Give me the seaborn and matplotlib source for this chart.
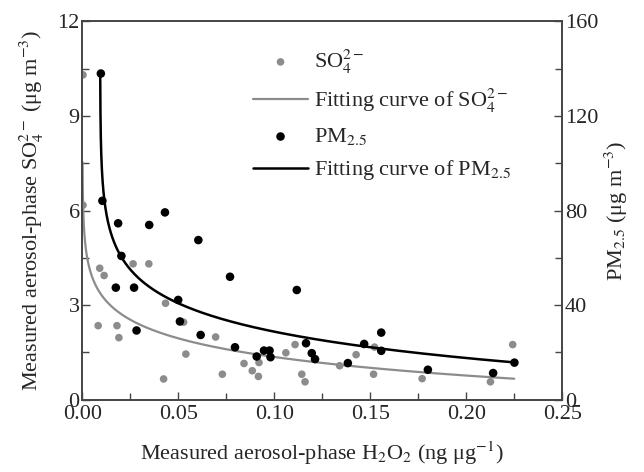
import numpy as np
import pandas as pd
import seaborn as sns
import matplotlib.pyplot as plt
from matplotlib.ticker import MultipleLocator

# SO4 2- (left axis), gray dots
so4_x = [0.0003, 0.0003, 0.0090, 0.0113, 0.0082, 0.0180, 0.0190, 0.0264, 0.0346, 0.0433,
         0.0423, 0.0527, 0.0539, 0.0694, 0.0729, 0.0842, 0.0885, 0.0917, 0.0920, 0.1060,
         0.1108, 0.1143, 0.1160, 0.1340, 0.1426, 0.1517, 0.1522, 0.1770, 0.2126, 0.2242]
so4_y = [10.3, 6.17, 4.17, 3.94, 2.35, 2.35, 1.97, 4.31, 4.31, 3.06,
         0.66, 2.46, 1.45, 1.99, 0.81, 1.15, 0.92, 0.74, 1.18, 1.49,
         1.75, 0.81, 0.57, 1.08, 1.43, 0.81, 1.67, 0.67, 0.57, 1.75]

# PM2.5 (right axis), black dots
pm_x = [0.0096, 0.0104, 0.0186, 0.0348, 0.0430, 0.0604, 0.0203, 0.0769, 0.0174, 0.0269,
        0.0499, 0.0508, 0.0282, 0.0616, 0.0795, 0.0908, 0.0946, 0.0975, 0.0980, 0.1117,
        0.1165, 0.1195, 0.1212, 0.1383, 0.1468, 0.1557, 0.1557, 0.1800, 0.2140, 0.2251]
pm_y = [137.9, 84.1, 74.6, 73.9, 79.2, 67.5, 60.8, 52.0, 47.4, 47.4,
        42.2, 33.1, 29.3, 27.4, 22.2, 18.3, 20.8, 20.8, 18.0, 46.4,
        23.9, 19.7, 17.2, 15.5, 23.6, 28.4, 20.7, 12.7, 11.3, 15.7]

# fitted curves y = a + b*ln(x - c), coefficients
so4_fit = {"a": -0.6, "b": -0.85, "c": 0.0, "x0": 0.00007, "x1": 0.225}
pm_fit = {"a": -7.2, "b": -15.0, "c": 0.0092, "x0": 0.00926, "x1": 0.225}


def fit_curve(p):
    x = p["c"] + np.geomspace(p["x0"] - p["c"], p["x1"] - p["c"], 400)
    return pd.DataFrame({"x": x, "y": p["a"] + p["b"] * np.log(x - p["c"])})


sns.set_style("ticks")
plt.rcParams["font.family"] = ["Liberation Serif", "STIXGeneral", "DejaVu Serif"]
plt.rcParams["mathtext.fontset"] = "stix"
plt.rcParams["font.size"] = 16

gray = "#8c8c8c"
edge = "#444444"

fig, ax = plt.subplots(figsize=(6.44, 4.72), dpi=100)
fig.subplots_adjust(left=0.128, right=0.873, top=0.955, bottom=0.153)
ax2 = ax.twinx()

sns.scatterplot(x=so4_x, y=so4_y, ax=ax, color=gray, s=30, edgecolor="none",
                label="SO$_4^{2-}$", zorder=3)
sns.lineplot(data=fit_curve(so4_fit), x="x", y="y", ax=ax, color=gray, lw=1.6,
             estimator=None, label="Fitting curve of SO$_4^{2-}$")
sns.scatterplot(x=pm_x, y=pm_y, ax=ax2, color="black", s=38, edgecolor="none",
                label="PM$_{2.5}$", zorder=3)
sns.lineplot(data=fit_curve(pm_fit), x="x", y="y", ax=ax2, color="black", lw=1.8,
             estimator=None, label="Fitting curve of PM$_{2.5}$")

ax.set_xlim(0, 0.25)
ax.set_ylim(0, 12)
ax2.set_ylim(0, 160)
ax.xaxis.set_major_locator(MultipleLocator(0.05))
ax.xaxis.set_minor_locator(MultipleLocator(0.025))
ax.yaxis.set_major_locator(MultipleLocator(3))
ax.yaxis.set_minor_locator(MultipleLocator(1.5))
ax2.yaxis.set_major_locator(MultipleLocator(40))
ax2.yaxis.set_minor_locator(MultipleLocator(20))
ax.xaxis.set_major_formatter(lambda v, pos: f"{v:.2f}")

for a in (ax, ax2):
    for sp in a.spines.values():
        sp.set_visible(True)
        sp.set_color(edge)
        sp.set_linewidth(1.2)
    a.tick_params(which="both", direction="in", color=edge, width=1.0,
                  labelsize=16, pad=2)
    a.tick_params(which="major", length=6)
    a.tick_params(which="minor", length=5)
ax.tick_params(axis="y", which="both", right=False)
ax.tick_params(axis="x", which="both", top=False)
ax.tick_params(axis="x", pad=4)

ax.set_xlabel("Measured aerosol-phase H$_2$O$_2$ (ng μg$^{-1}$)", fontsize=16, labelpad=11)
ax.set_ylabel("Measured aerosol-phase SO$_4^{2-}$ (μg m$^{-3}$)", fontsize=16, labelpad=8)
ax2.set_ylabel("PM$_{2.5}$ (μg m$^{-3}$)", fontsize=16, labelpad=3)

h1, l1 = ax.get_legend_handles_labels()
h2, l2 = ax2.get_legend_handles_labels()
ax.get_legend().remove()
ax2.get_legend().remove()
ax2.legend(h1 + h2, l1 + l2, loc="upper left", bbox_to_anchor=(0.355, 0.93),
           frameon=False, fontsize=16, handlelength=2.5, handletextpad=0.25,
           labelspacing=0.5, borderpad=0, borderaxespad=0)

fig.savefig("out.png", dpi=100)
